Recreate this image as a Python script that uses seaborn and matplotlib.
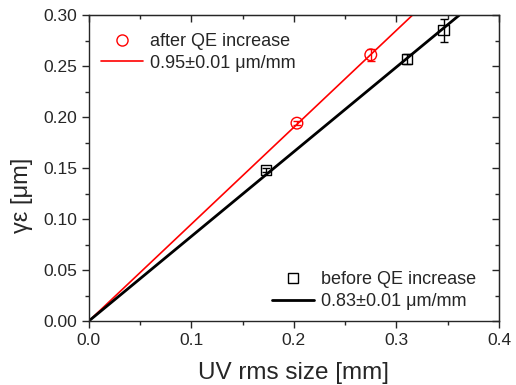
import matplotlib
matplotlib.use("Agg")
import matplotlib.pyplot as plt
import seaborn as sns
import pandas as pd
from matplotlib.lines import Line2D
from matplotlib.ticker import MultipleLocator, FormatStrFormatter

after_x = [0.203, 0.275]
after_y = [0.194, 0.261]
after_err = [0.002, 0.006]

before_x = [0.173, 0.310, 0.346]
before_y = [0.148, 0.257, 0.285]
before_err = [0.002, 0.005, 0.011]

# fitted slopes (um/mm), lines through origin
slope_after = 0.95
slope_before = 0.83
label_after = "0.95\u00b10.01 \u03bcm/mm"
label_before = "0.83\u00b10.01 \u03bcm/mm"

sns.set_style("ticks")
plt.rcParams["font.family"] = ["Liberation Sans", "DejaVu Sans"]

fig, ax = plt.subplots(figsize=(5.16, 3.85), dpi=100)

df_a = pd.DataFrame({"x": after_x, "y": after_y})
df_b = pd.DataFrame({"x": before_x, "y": before_y})

ax.axline((0, 0), slope=slope_after, color="red", lw=1.2, zorder=2)
ax.axline((0, 0), slope=slope_before, color="black", lw=2, zorder=2)

ax.errorbar(after_x, after_y, yerr=after_err, fmt="none", ecolor="red",
            elinewidth=1, capsize=3, zorder=3)
ax.errorbar(before_x, before_y, yerr=before_err, fmt="none", ecolor="black",
            elinewidth=1, capsize=3, zorder=3)

sns.scatterplot(data=df_a, x="x", y="y", ax=ax, marker="o", s=70,
                facecolor="none", edgecolor="red", linewidth=1, zorder=4)
sns.scatterplot(data=df_b, x="x", y="y", ax=ax, marker="s", s=55,
                facecolor="none", edgecolor="black", linewidth=1, zorder=4)

ax.set_xlim(0, 0.4)
ax.set_ylim(0, 0.30)
ax.xaxis.set_major_locator(MultipleLocator(0.1))
ax.xaxis.set_minor_locator(MultipleLocator(0.05))
ax.yaxis.set_major_locator(MultipleLocator(0.05))
ax.yaxis.set_minor_locator(MultipleLocator(0.025))
ax.xaxis.set_major_formatter(FormatStrFormatter("%.1f"))
ax.yaxis.set_major_formatter(FormatStrFormatter("%.2f"))

ax.tick_params(which="both", direction="out", labelsize=12.5, width=1)
ax.tick_params(which="major", length=5)
ax.tick_params(which="minor", length=3)
# mirrored ticks inside on top/right
ax2 = ax.secondary_xaxis("top")
ax2.xaxis.set_major_locator(MultipleLocator(0.1))
ax2.xaxis.set_minor_locator(MultipleLocator(0.05))
ax2.tick_params(which="both", direction="in", labeltop=False, width=1)
ax2.tick_params(which="major", length=5)
ax2.tick_params(which="minor", length=3)
ax3 = ax.secondary_yaxis("right")
ax3.yaxis.set_major_locator(MultipleLocator(0.05))
ax3.yaxis.set_minor_locator(MultipleLocator(0.025))
ax3.tick_params(which="both", direction="in", labelright=False, width=1)
ax3.tick_params(which="major", length=5)
ax3.tick_params(which="minor", length=3)
for sp in ax.spines.values():
    sp.set_linewidth(1)

ax.set_xlabel("UV rms size [mm]", fontsize=17.5, labelpad=10)
ax.set_ylabel("\u03b3\u03b5 [\u03bcm]", fontsize=17)
ax.yaxis.set_label_coords(-0.136, 0.41)

h_a = [Line2D([], [], ls="none", marker="o", mfc="none", mec="red", ms=8),
       Line2D([], [], color="red", lw=1.2)]
leg1 = ax.legend(h_a, ["after QE increase", label_after], loc="upper left",
                 bbox_to_anchor=(0.0, 0.982), frameon=False, fontsize=13,
                 handlelength=2.3, handletextpad=0.4, labelspacing=0.25,
                 borderaxespad=0.3)
ax.add_artist(leg1)
h_b = [Line2D([], [], ls="none", marker="s", mfc="none", mec="black", ms=7),
       Line2D([], [], color="black", lw=2)]
ax.legend(h_b, ["before QE increase", label_before], loc="lower right",
          bbox_to_anchor=(0.975, -0.005), frameon=False, fontsize=13,
          handlelength=2.3, handletextpad=0.4, labelspacing=0.25,
          borderaxespad=0.3)

fig.subplots_adjust(left=0.172, right=0.967, top=0.961, bottom=0.166)
fig.savefig("out.png", dpi=100)
